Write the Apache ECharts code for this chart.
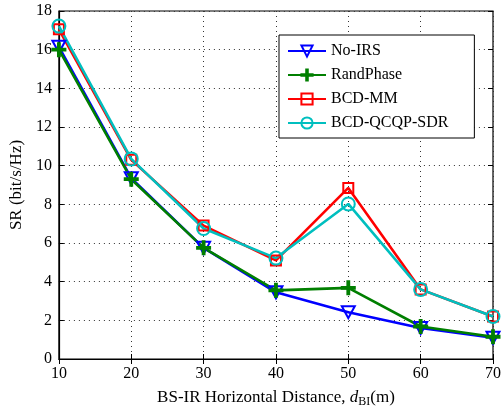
<!DOCTYPE html>
<html><head><meta charset="utf-8">
<script src="https://cdn.jsdelivr.net/npm/echarts@6/dist/echarts.min.js"></script>
<style>html,body{margin:0;padding:0;background:#fff}#c{width:504px;height:413px}</style>
</head><body><div id="c"></div>
<script>
const distances = [10, 20, 30, 40, 50, 60, 70];
const noIRS = [16.15, 9.35, 5.75, 3.45, 2.42, 1.6, 1.1];
const randPhase = [16.0, 9.3, 5.75, 3.55, 3.68, 1.68, 1.15];
const bcdMM = [17.05, 10.3, 6.9, 5.1, 8.85, 3.6, 2.2];
const bcdQCQP = [17.22, 10.35, 6.75, 5.22, 8.02, 3.6, 2.2];
const seriesNames = ['No-IRS', 'RandPhase', 'BCD-MM', 'BCD-QCQP-SDR'];

const font = 'Liberation Serif';
const pair = arr => distances.map((d, i) => [d, arr[i]]);
const triDown = 'path://M0,0L10,0L5,9Z';
const plus = 'path://M4.3,0H5.7V4.3H10V5.7H5.7V10H4.3V5.7H0V4.3H4.3Z';

function mk(name, data, color, symbol, size, fill) {
  return {
    name, type: 'line', data: pair(data), symbol, symbolSize: size,
    showAllSymbol: true,
    lineStyle: { color, width: 2.6 },
    itemStyle: { color: fill, borderColor: color, borderWidth: 2 },
    emphasis: { disabled: true }, animation: false
  };
}

const chart = echarts.init(document.getElementById('c'));
const gridLine = { show: true, lineStyle: { type: [1, 4], color: '#333', width: 1 } };
chart.setOption({
  backgroundColor: '#fff',
  animation: false,
  grid: { left: 57, right: 10, top: 11, bottom: 49, show: true, borderColor: '#000', borderWidth: 1.2 },
  legend: {
    orient: 'vertical', left: 279, top: 35,
    backgroundColor: '#fff', borderColor: '#000', borderWidth: 1,
    padding: [8, 26, 7, 8], itemGap: 8, itemWidth: 38, itemHeight: 14,
    textStyle: { fontFamily: font, fontSize: 16, color: '#000' },
    data: seriesNames
  },
  xAxis: [{
    type: 'value', min: 10, max: 70, interval: 10,
    axisLine: { lineStyle: { color: '#000', width: 1.2 } },
    axisTick: { inside: true, length: 5, lineStyle: { color: '#000' } },
    axisLabel: { fontFamily: font, fontSize: 16, color: '#000', margin: 7 },
    splitLine: gridLine,
    name: '{a|BS-IR Horizontal Distance, }{i|d}{s|BI}{a|(m)}',
    nameLocation: 'middle', nameGap: 29,
    nameTextStyle: {
      rich: {
        a: { fontFamily: font, fontSize: 17, color: '#000' },
        i: { fontFamily: font, fontSize: 17, fontStyle: 'italic', color: '#000' },
        s: { fontFamily: font, fontSize: 12, color: '#000', padding: [8, 0, 0, 0] }
      }
    }
  }, {
    type: 'value', min: 10, max: 70, interval: 10, position: 'top',
    axisLine: { show: false }, axisLabel: { show: false }, splitLine: { show: false },
    axisTick: { inside: true, length: 5, lineStyle: { color: '#000' } }
  }],
  yAxis: [{
    type: 'value', min: 0, max: 18, interval: 2,
    axisLine: { show: true, lineStyle: { color: '#000', width: 1.2 } },
    axisTick: { show: true, inside: true, length: 5, lineStyle: { color: '#000' } },
    axisLabel: { fontFamily: font, fontSize: 16, color: '#000', margin: 7 },
    splitLine: gridLine,
    name: 'SR (bit/s/Hz)', nameLocation: 'middle', nameGap: 28,
    nameTextStyle: { fontFamily: font, fontSize: 17, color: '#000' }
  }, {
    type: 'value', min: 0, max: 18, interval: 2, position: 'right',
    axisLine: { show: false }, axisLabel: { show: false }, splitLine: { show: false },
    axisTick: { show: true, inside: true, length: 5, lineStyle: { color: '#000' } }
  }],
  series: [
    mk('No-IRS', noIRS, '#0000ff', triDown, [13, 12], 'rgba(255,255,255,0)'),
    mk('RandPhase', randPhase, '#007f00', plus, 13, '#007f00'),
    mk('BCD-MM', bcdMM, '#ff0000', 'rect', 10, 'rgba(255,255,255,0)'),
    mk('BCD-QCQP-SDR', bcdQCQP, '#00bfbf', 'circle', 13, 'rgba(255,255,255,0)')
  ]
});
</script></body></html>
